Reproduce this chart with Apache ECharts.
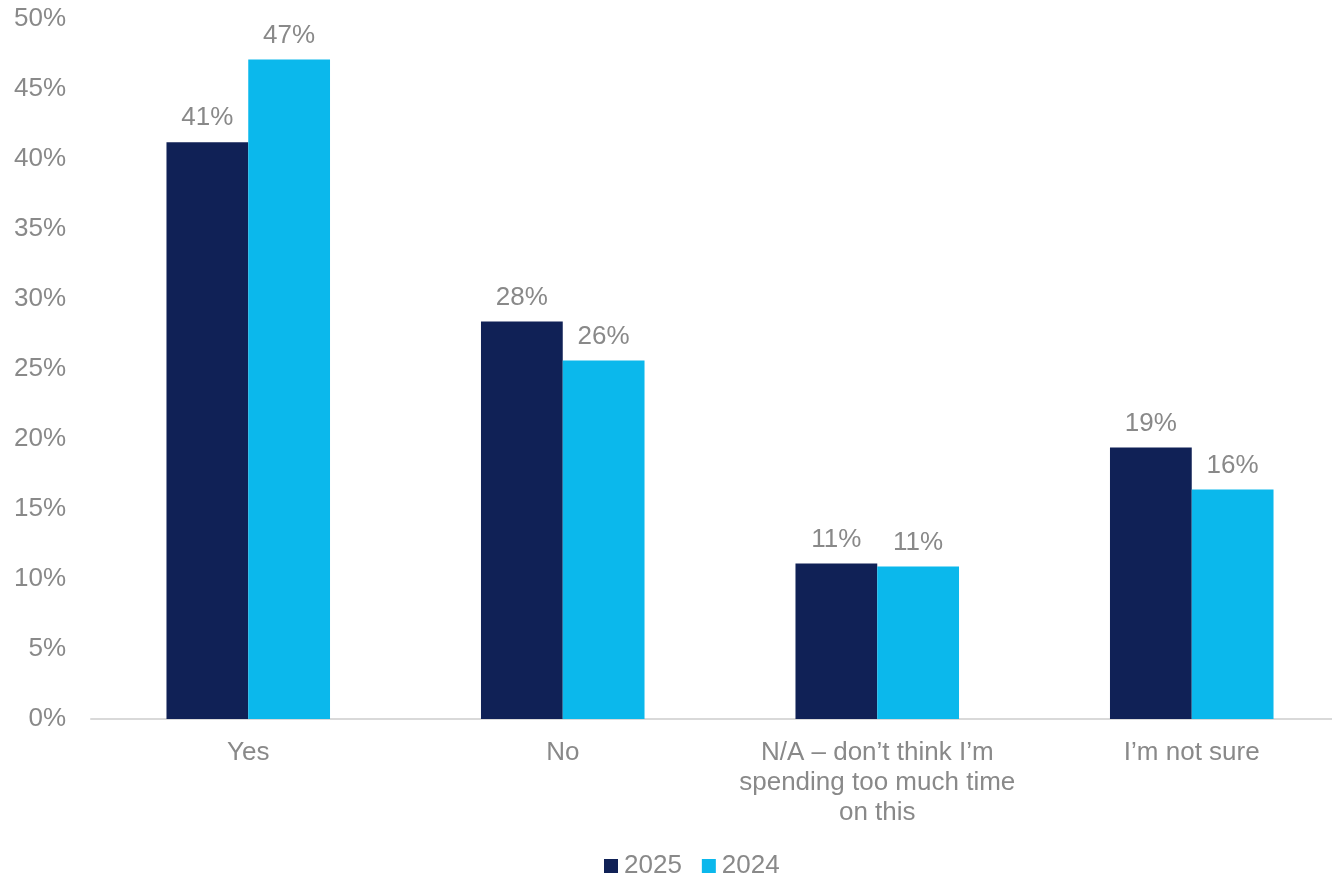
<!DOCTYPE html>
<html>
<head>
<meta charset="utf-8">
<script src="https://cdn.jsdelivr.net/npm/echarts@6/dist/echarts.min.js"></script>
<style>html,body{margin:0;padding:0;background:#fff;overflow:hidden;}#c{width:1332px;height:878px;}</style>
</head>
<body>
<div id="c"></div>
<script>
const categories = ["Yes", "No", "N/A \u2013 don\u2019t think I\u2019m\nspending too much time\non this", "I\u2019m not sure"];
const series2025 = [41.2, 28.4, 11.1, 19.4];
const series2024 = [47.1, 25.6, 10.9, 16.4];
const seriesNames = ["2025", "2024"];
const yTicks = [0, 5, 10, 15, 20, 25, 30, 35, 40, 45, 50];

const textColor = "#898989";
const font = "Liberation Sans, Arial, sans-serif";
const chart = echarts.init(document.getElementById("c"), null, {renderer: "canvas"});
const labelCfg = {
  show: true, position: "top", distance: 11,
  color: textColor, fontSize: 26, fontFamily: font,
  formatter: p => Math.round(p.value) + "%"
};
chart.setOption({
  animation: false,
  backgroundColor: "#fff",
  grid: {left: 91, width: 1258, top: 19, bottom: 159, containLabel: false, outerBoundsMode: "none"},
  legend: {
    top: 848, left: 599,
    itemWidth: 14, itemHeight: 14, itemGap: 20,
    icon: "rect",
    textStyle: {color: textColor, fontSize: 26, fontFamily: font, padding: [0, 0, 0, 1]},
    data: seriesNames
  },
  xAxis: {
    type: "category",
    data: categories,
    axisLine: {show: true, lineStyle: {color: "#d9d9d9", width: 2}},
    axisTick: {show: false},
    axisLabel: {color: textColor, fontSize: 26, fontFamily: font, margin: 19, lineHeight: 30, interval: 0}
  },
  yAxis: {
    type: "value",
    min: 0, max: 50, interval: 5,
    splitLine: {show: false},
    axisLine: {show: false},
    axisTick: {show: false},
    axisLabel: {color: textColor, fontSize: 26, fontFamily: font, margin: 25, formatter: v => v + "%"}
  },
  series: [
    {name: seriesNames[0], type: "bar", data: series2025, barGap: "0%", barCategoryGap: "48%",
     itemStyle: {color: "#102156"}, label: labelCfg},
    {name: seriesNames[1], type: "bar", data: series2024, barGap: "0%", barCategoryGap: "48%",
     itemStyle: {color: "#0bb8ec"}, label: labelCfg}
  ]
});
</script>
</body>
</html>
